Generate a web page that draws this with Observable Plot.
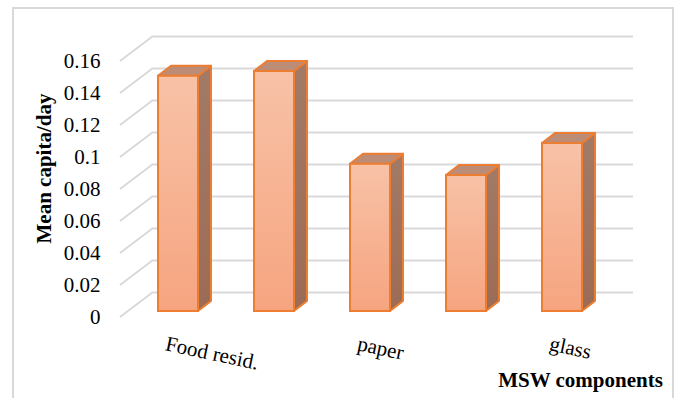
<!DOCTYPE html>
<html><head><meta charset="utf-8">
<script src="https://cdn.jsdelivr.net/npm/d3@7"></script>
<script src="https://cdn.jsdelivr.net/npm/@observablehq/plot@0.6"></script>
<style>
body{margin:0;background:#fff;}
#wrap{position:relative;width:676px;height:398px;overflow:hidden;}
#chart{position:absolute;left:0;top:0;}
#chart svg text{font-family:"Liberation Serif","Times New Roman",serif !important;}
#border{position:absolute;left:12px;top:7px;width:662px;height:430px;border:2px solid #D9D9D9;box-sizing:border-box;pointer-events:none;}
</style></head><body>
<div id="wrap"><div id="chart"></div><div id="border"></div></div>
<script>
// ---- data ----
const categories = ["Food resid.", "Component 2", "paper", "Component 4", "glass"];
const values = [0.147, 0.150, 0.092, 0.085, 0.105];
const shownLabels = ["Food resid.", "paper", "glass"];
const yTicks = [0, 0.02, 0.04, 0.06, 0.08, 0.1, 0.12, 0.14, 0.16];
const yTitle = "Mean capita/day";
const xTitle = "MSW components";

const data = categories.map((c, i) => ({cat: c, value: values[i]}));

// ---- 3D look ----
const ns = "http://www.w3.org/2000/svg";
const WALL = {dx: 33, dy: -25};
const FACE = {dx: 10, dy: -6};
const DEPTH = {dx: 13, dy: -10};
const FONT = "Liberation Serif";
const ORANGE = "#ED7D31";

function el(tag, attrs) {
  const e = document.createElementNS(ns, tag);
  for (const k in attrs) e.setAttribute(k, attrs[k]);
  return e;
}

const diagonals = Plot.ruleY(yTicks, {
  y: d => d,
  render: (index, scales, vals, dims) => {
    const g = el("g", {});
    const x0 = dims.marginLeft;
    for (const i of index) {
      const y = scales.y(yTicks[i]);
      g.appendChild(el("line", {x1: x0, y1: y, x2: x0 + WALL.dx, y2: y + WALL.dy,
        stroke: "#D9D9D9", "stroke-width": 2}));
    }
    return g;
  }
});

function bandwidthOf(sx) {
  const b = sx.bandwidth;
  if (typeof b === "function") return b.call(sx);
  if (typeof b === "number" && isFinite(b)) return b;
  return (sx(categories[1]) - sx(categories[0])) * 0.42;
}

const barSides = Plot.barY(data, {
  x: "cat", y: "value", fill: "none",
  render: (index, scales, vals, dims) => {
    const g = el("g", {});
    const bw = bandwidthOf(scales.x);
    for (const i of index) {
      const d = data[i];
      const xl = scales.x(d.cat) + FACE.dx, xr = xl + bw;
      const yb = scales.y(0) + FACE.dy, yt = scales.y(d.value) + FACE.dy;
      const side = [[xr, yb], [xr + DEPTH.dx, yb + DEPTH.dy], [xr + DEPTH.dx, yt + DEPTH.dy], [xr, yt]];
      const top = [[xl, yt], [xl + DEPTH.dx, yt + DEPTH.dy], [xr + DEPTH.dx, yt + DEPTH.dy], [xr, yt]];
      g.appendChild(el("polygon", {points: side.map(p => p.join(",")).join(" "),
        fill: "url(#sideGrad)", stroke: ORANGE, "stroke-width": 2, "stroke-linejoin": "round"}));
      g.appendChild(el("polygon", {points: top.map(p => p.join(",")).join(" "),
        fill: "#BC8C77", stroke: ORANGE, "stroke-width": 2, "stroke-linejoin": "round"}));
    }
    return g;
  }
});

const chart = Plot.plot({
  width: 676,
  height: 398,
  marginLeft: 120,
  marginRight: 76,
  marginTop: 61,
  marginBottom: 81,
  style: {background: "transparent", fontFamily: FONT, color: "#000"},
  x: {type: "band", domain: categories, paddingInner: 0.58, paddingOuter: 0.29, axis: null},
  y: {domain: [0, 0.16], axis: null},
  marks: [
    Plot.ruleY(yTicks, {y: d => d, dx: WALL.dx, dy: WALL.dy, stroke: "#D9D9D9", strokeWidth: 2, strokeOpacity: 1}),
    diagonals,
    barSides,
    Plot.barY(data, {x: "cat", y: "value", fill: "url(#barGrad)", stroke: ORANGE, strokeWidth: 2,
      dx: FACE.dx, dy: FACE.dy}),
    Plot.axisY(yTicks, {tickSize: 0, tickPadding: 20, fontSize: 21, fontFamily: FONT,
      tickFormat: d => String(+d.toFixed(2)), label: null, fill: "#000"}),
    Plot.text(shownLabels, {x: d => d, text: d => d, frameAnchor: "bottom", rotate: 12,
      textAnchor: "start", lineAnchor: "top", dx: -1, dy: 18, fontSize: 21, fontFamily: FONT, fill: "#000"}),
    Plot.text([yTitle], {text: d => d, frameAnchor: "left", textAnchor: "middle", rotate: -90, dx: -76, dy: -21,
      fontSize: 21, fontWeight: "bold", fontFamily: FONT, fill: "#000"}),
    Plot.text([xTitle], {text: d => d, frameAnchor: "bottom-right", textAnchor: "middle", dx: -20, dy: 69,
      fontSize: 21, fontWeight: "bold", fontFamily: FONT, fill: "#000"})
  ]
});

// gradients
const defs = el("defs", {});
const g1 = el("linearGradient", {id: "barGrad", x1: 0, y1: 0, x2: 0, y2: 1});
g1.appendChild(el("stop", {offset: "0%", "stop-color": "#F8C2A7"}));
g1.appendChild(el("stop", {offset: "100%", "stop-color": "#F6A47F"}));
const g2 = el("linearGradient", {id: "sideGrad", x1: 0, y1: 0, x2: 0, y2: 1});
g2.appendChild(el("stop", {offset: "0%", "stop-color": "#A27A67"}));
g2.appendChild(el("stop", {offset: "100%", "stop-color": "#9C6C55"}));
defs.appendChild(g1); defs.appendChild(g2);
chart.insertBefore(defs, chart.firstChild);

document.getElementById("chart").appendChild(chart);
</script>
</body></html>
